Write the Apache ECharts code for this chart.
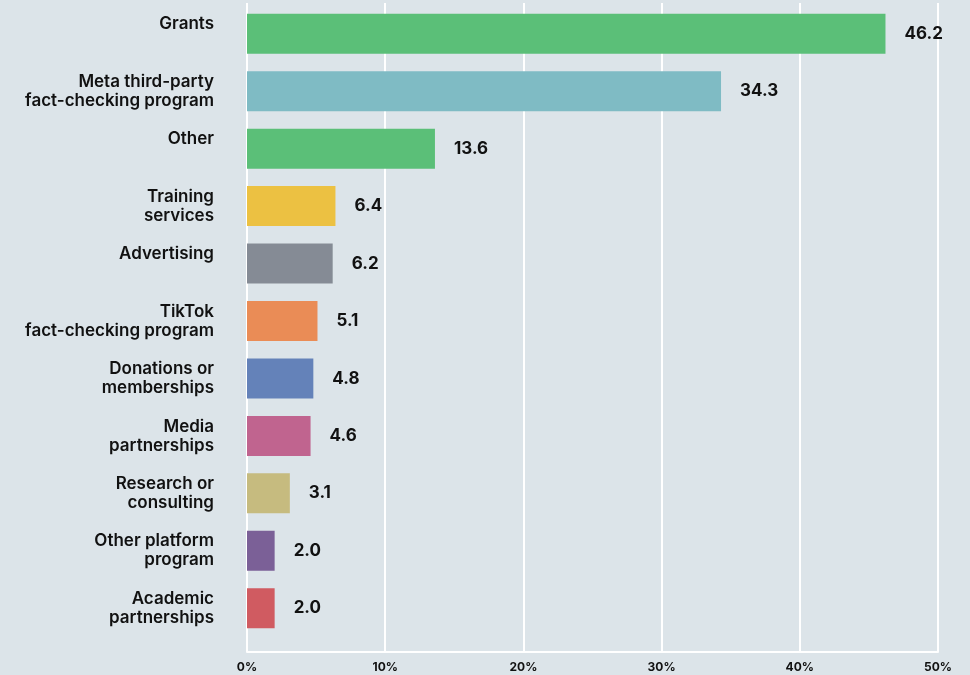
<!DOCTYPE html>
<html>
<head>
<meta charset="utf-8">
<script src="https://cdn.jsdelivr.net/npm/echarts@6/dist/echarts.min.js"></script>
<style>html,body{margin:0;padding:0;background:#dce4e9;}#c{width:970px;height:675px;}</style>
</head>
<body>
<div id="c"></div>
<script>
const categories = ["Grants", "Meta third-party\nfact-checking program", "Other", "Training\nservices", "Advertising", "TikTok\nfact-checking program", "Donations or\nmemberships", "Media\npartnerships", "Research or\nconsulting", "Other platform\nprogram", "Academic\npartnerships"];
const values = [46.2, 34.3, 13.6, 6.4, 6.2, 5.1, 4.8, 4.6, 3.1, 2.0, 2.0];
const colors = ["#5bbf78", "#7fbbc4", "#5bbf78", "#ecc142", "#858b95", "#ea8c56", "#6482b9", "#c0648f", "#c6bb7f", "#7b6097", "#d05b61"];
const xTicks = [0, 10, 20, 30, 40, 50];

const chart = echarts.init(document.getElementById('c'));
const font = 'Inter, Roboto, sans-serif';
chart.setOption({
  backgroundColor: '#dce4e9',
  animation: false,
  grid: [
    {left: 247, right: 32, top: 5, height: 632},
    {left: 247, right: 32, top: 3, bottom: 23}
  ],
  xAxis: [
    {gridIndex: 0, type: 'value', min: xTicks[0], max: xTicks[xTicks.length-1], interval: 10,
     axisLine: {show: false}, axisTick: {show: false}, axisLabel: {show: false}, splitLine: {show: false}},
    {gridIndex: 1, type: 'value', min: xTicks[0], max: xTicks[xTicks.length-1], interval: 10,
     axisLine: {show: true, lineStyle: {color: '#ffffff', width: 2}},
     axisTick: {show: false},
     splitLine: {show: true, lineStyle: {color: '#ffffff', width: 2}},
     axisLabel: {margin: 9, formatter: v => v + '%', color: '#111', fontFamily: font, fontWeight: 700, fontSize: 12}}
  ],
  yAxis: [
    {gridIndex: 0, type: 'category', data: categories, inverse: true,
     axisLine: {show: false}, axisTick: {show: false},
     axisLabel: {margin: 33, color: '#111', fontFamily: font, fontWeight: 600, fontSize: 17, lineHeight: 19, align: 'right',
       formatter: v => v.indexOf('\n') < 0 ? v + '\n ' : v}},
    {gridIndex: 1, type: 'value', show: false, splitLine: {show: false}}
  ],
  series: [{
    type: 'bar', xAxisIndex: 0, yAxisIndex: 0,
    data: values.map((v, i) => ({value: v, itemStyle: {color: colors[i]}})),
    barWidth: 40,
    label: {show: true, position: 'right', distance: 19, color: '#111', fontFamily: font, fontWeight: 700, fontSize: 17,
      formatter: p => p.value.toFixed(1)}
  }]
});
</script>
</body>
</html>
